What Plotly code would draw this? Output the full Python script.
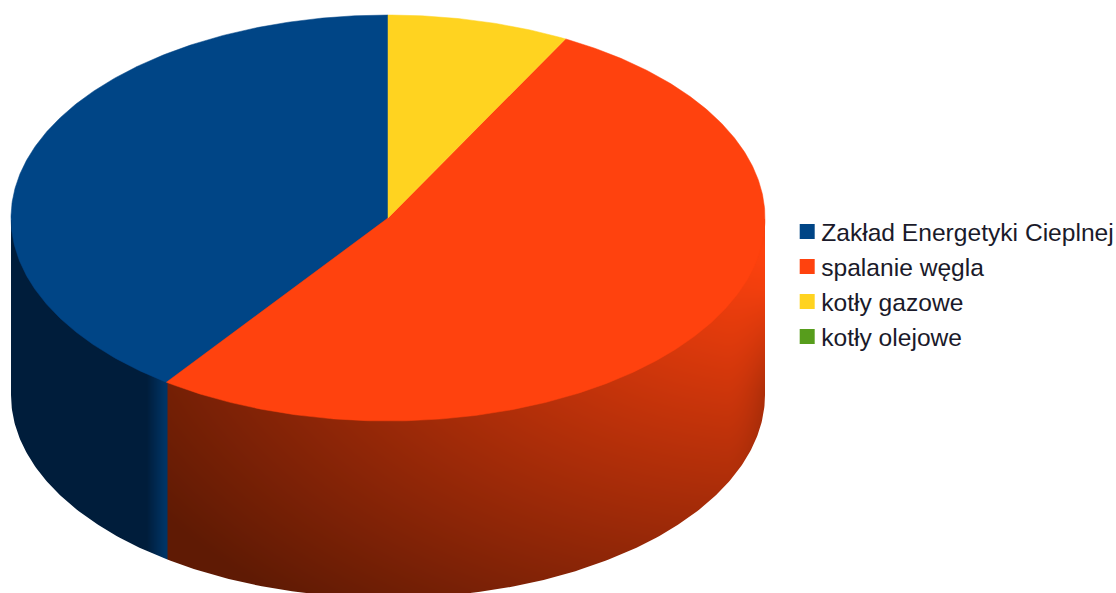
import numpy as np
import plotly.graph_objects as go

# data
labels = ["Zakład Energetyki Cieplnej", "spalanie węgla", "kotły gazowe", "kotły olejowe"]
values = [40.0, 52.2, 7.8, 0.0]
colors = ["#004586", "#ff420e", "#ffd320", "#579d1c"]

W, H = 1116, 593
CX, CY, RX, RY, DEPTH = 388.0, 218.0, 377.0, 203.0, 177.0


def ell(theta_deg, dy=0.0):
    t = np.radians(theta_deg)
    return CX + RX * np.sin(t), CY - RY * np.cos(t) + dy


total = sum(values)
cum = np.cumsum([0.0] + values) / total * 360.0
starts = 360.0 - cum[1:]
ends = 360.0 - cum[:-1]
blue_start = starts[0]
xsplit = ell(blue_start)[0]

fig = go.Figure()

# side wall shading
xs = np.arange(xsplit - 2, 769, 2.0)
ys = np.arange(CY + 2, 597, 2.0)
X, Y = np.meshgrid(xs, ys)
d = np.sqrt((X - 770) ** 2 + (1.6 * (Y - 250)) ** 2)
t = np.clip(1 - d / 740.0, 0, 1)
edge = np.clip((X - 725) / 40.0, 0, 1) ** 2 * np.clip((Y - 290) / 100.0, 0, 1) * 0.2
t = np.round(np.clip(t - edge, 0, 1), 3)
fig.add_trace(go.Heatmap(x=xs, y=ys, z=t, zmin=0, zmax=1, zsmooth="best", showscale=False,
                         colorscale=[[0, "#5f1a04"], [1, "#ff420e"]], hoverinfo="skip"))

xb = np.arange(5, xsplit + 1.5, 1.0)
yb = [CY + 2, 600.0]  # row edges
Zb = [list(np.round(np.clip((xb - (xsplit - 20)) / 18.0, 0, 1), 3))]
fig.add_trace(go.Heatmap(x=xb, y=yb, z=Zb, zmin=0, zmax=1, showscale=False,
                         colorscale=[[0, "#001d3b"], [1, "#003465"]], hoverinfo="skip"))

# mask outside the cylinder
arc = np.linspace(270, 90, 300)
ax, ay = ell(arc, DEPTH)
mx = [0, CX - RX] + list(ax) + [CX + RX, 800, 800, 0, 0]
my = [CY - 3, CY - 3] + list(ay) + [CY - 3, CY - 3, 610, 610, CY - 3]
fig.add_trace(go.Scatter(x=mx, y=my, mode="lines", fill="toself", fillcolor="white",
                         line=dict(width=0), showlegend=False, hoverinfo="skip"))

# top face wedges
for s, e, v, c, name in zip(starts, ends, values, colors, labels):
    if v <= 0:
        continue
    th = np.linspace(s, e, max(int(e - s) * 2, 8))
    px, py = ell(th)
    fig.add_trace(go.Scatter(x=[CX] + list(px) + [CX], y=[CY] + list(py) + [CY], mode="lines",
                             fill="toself", fillcolor=c, line=dict(width=0.5, color=c),
                             showlegend=False, hoverinfo="skip"))

# legend entries
for name, c in zip(labels, colors):
    fig.add_trace(go.Scatter(x=[None], y=[None], mode="markers", name=name,
                             marker=dict(symbol="square", size=15, color=c)))

fig.update_layout(
    width=W, height=H, margin=dict(l=0, r=0, t=0, b=0, autoexpand=False),
    paper_bgcolor="white", plot_bgcolor="white",
    xaxis=dict(range=[0, W], visible=False, fixedrange=True),
    yaxis=dict(range=[H, 0], visible=False, fixedrange=True),
    showlegend=True,
    legend=dict(x=0.70, y=0.6475, xanchor="left", yanchor="top", bgcolor="rgba(0,0,0,0)",
                font=dict(family="Liberation Sans", size=24.6, color="#1a1a2a"),
                itemwidth=30, traceorder="normal"),
)
fig.write_html("out.html", config={"displayModeBar": False},
               post_script="document.body.style.margin='0';document.body.style.overflow='hidden';"
                           "setTimeout(function(){document.querySelectorAll('.legendsymbols').forEach("
                           "function(e){e.setAttribute('transform','translate(6,0)');});},50);")
